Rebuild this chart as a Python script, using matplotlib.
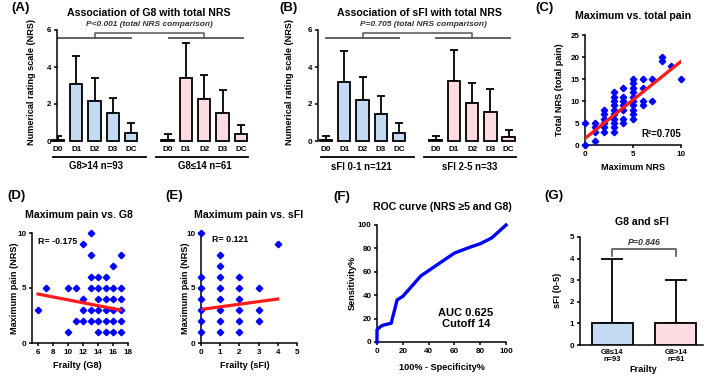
import numpy as np
import matplotlib
matplotlib.use("Agg")
import matplotlib.pyplot as plt

plt.rcParams["font.family"] = ["Liberation Sans", "DejaVu Sans"]
plt.rcParams["font.weight"] = "bold"
plt.rcParams["axes.linewidth"] = 1.1

# ---- values ----
day_labels = ["D0", "D1", "D2", "D3", "DC"]

# (A) total NRS by G8 group: bar height and top of error bar
a_high_mean = [0.05, 3.10, 2.15, 1.49, 0.41]
a_high_top = [0.27, 4.57, 3.40, 2.35, 0.99]
a_low_mean = [0.05, 3.42, 2.28, 1.54, 0.39]
a_low_top = [0.36, 5.32, 3.55, 2.78, 0.86]

# (B) total NRS by sFI group
b_low_mean = [0.07, 3.19, 2.19, 1.46, 0.41]
b_low_top = [0.27, 4.84, 3.46, 2.42, 0.99]
b_high_mean = [0.07, 3.24, 2.05, 1.56, 0.21]
b_high_top = [0.28, 4.92, 3.12, 2.81, 0.61]

# (C) maximum NRS vs total NRS
c_max = [0, 0,
         1, 1, 1, 1,
         2, 2, 2, 2, 2, 2,
         3, 3, 3, 3, 3, 3, 3, 3, 3, 3,
         4, 4, 4, 4, 4, 4, 4,
         5, 5, 5, 5, 5, 5, 5, 5, 5, 5,
         6, 6, 6, 6,
         7, 7, 8, 8, 9, 10]
c_total = [0, 5,
           1, 3, 4, 5,
           3, 4, 5, 6, 7, 8,
           3, 4, 5, 6, 7, 8, 9, 10, 11, 12,
           5, 6, 8, 9, 10, 11, 13,
           6, 7, 8, 9, 10, 11, 12, 13, 14, 15,
           9, 10, 13, 15,
           10, 15, 19, 20, 18, 15]
c_fit_x = [0, 10]
c_fit_y = [1.5, 19.0]

# (D) G8 vs maximum pain
d_g8 = [6, 7, 10, 10, 11, 11, 12, 12, 12, 12,
        13, 13, 13, 13, 13, 13,
        14, 14, 14, 14, 14, 14,
        15, 15, 15, 15, 15, 15,
        16, 16, 16, 16, 16, 16,
        17, 17, 17, 17, 17, 17]
d_pain = [3, 5, 1, 5, 2, 5, 2, 3, 4, 9,
          2, 3, 5, 6, 8, 10,
          1, 2, 3, 4, 5, 6,
          1, 2, 3, 4, 5, 6,
          1, 2, 3, 4, 5, 7,
          1, 2, 3, 4, 5, 8]
d_fit_x = [6, 17]
d_fit_y = [4.45, 3.0]

# (E) sFI vs maximum pain
e_sfi = [0, 0, 0, 0, 0, 0, 0,
         1, 1, 1, 1, 1, 1, 1, 1,
         2, 2, 2, 2, 2, 2,
         3, 3, 3, 4]
e_pain = [1, 2, 3, 4, 5, 6, 10,
          1, 2, 3, 4, 5, 6, 7, 8,
          1, 2, 3, 4, 5, 6,
          2, 3, 5, 9]
e_fit_x = [0, 4]
e_fit_y = [3.05, 4.0]

# (F) ROC curve
roc_fpr = [0, 0, 3, 5, 11, 15.6, 20, 34, 60, 72, 80, 89, 100]
roc_tpr = [0, 10.5, 13.4, 14.5, 16, 36, 39, 56.5, 76, 81, 84, 89, 100]

# (G) sFI by G8 group
g_labels = ["G8\u226414\nn=93", "G8>14\nn=61"]
g_mean = [1, 1]
g_top = [4, 3]

BLUE = "#c3daf2"
PINK = "#fcdce0"
DOT = "#0000ff"
RED = "#ff1a1a"
LW = 1.3

W, H = 709, 376
fig = plt.figure(figsize=(W / 100, H / 100), dpi=100)


def add_ax(left, top, right, bottom):
    # axes placed by pixel edges of the plotting area
    return fig.add_axes([left / W, 1 - bottom / H, (right - left) / W, (bottom - top) / H])


def ftext(x, y, s, size=6.6, **kw):
    kw.setdefault("ha", "center")
    kw.setdefault("va", "center")
    fig.text(x / W, 1 - y / H, s, fontsize=size, fontweight="bold", **kw)


def style(ax, bottom=True):
    ax.spines["top"].set_visible(False)
    ax.spines["right"].set_visible(False)
    if not bottom:
        ax.spines["bottom"].set_visible(False)
    ax.tick_params(direction="out", length=2.5, width=1.1, labelsize=5.8, pad=1.5)


def bar_panel(ax, m1, t1, m2, t2, xleft, xright):
    pos1 = np.arange(5)
    pos2 = np.arange(5) + 6
    for pos, m, t, col in ((pos1, m1, t1, BLUE), (pos2, m2, t2, PINK)):
        m = np.array(m)
        t = np.array(t)
        ax.errorbar(pos, m, yerr=[np.zeros(5), t - m], fmt="none", ecolor="black",
                    elinewidth=LW, capsize=2.8, capthick=LW, zorder=2)
        ax.bar(pos, m, width=0.68, color=col, edgecolor="black", linewidth=LW,
               zorder=3, clip_on=False)
    style(ax, bottom=False)
    ax.set_xlim(xleft, xright)
    ax.set_ylim(0, 6)
    ax.set_yticks([0, 2, 4, 6])
    ax.set_xticks(list(pos1) + list(pos2))
    ax.set_xticklabels(day_labels * 2)
    ax.tick_params(axis="x", length=0, pad=3.5)
    # group underlines
    tr = ax.get_xaxis_transform()
    for x0, x1 in ((-0.27, 4.83), (5.38, 10.4)):
        ax.plot([x0, x1], [-0.145, -0.145], transform=tr, color="black", lw=LW, clip_on=False)
    # comparison bracket
    gc = "#555555"
    ax.plot([0, 4.0], [5.55, 5.55], color=gc, lw=LW, clip_on=False)
    ax.plot([6.05, 10.1], [5.55, 5.55], color=gc, lw=LW, clip_on=False)
    ax.plot([2.05, 2.05, 8.0, 8.0], [5.55, 5.85, 5.85, 5.55], color=gc, lw=1.1, clip_on=False)


# ---- (A) ----
axA = add_ax(57, 30, 250, 141)
bar_panel(axA, a_high_mean, a_high_top, a_low_mean, a_low_top, -0.05, 10.5)
ftext(149, 13, "Association of G8 with total NRS", size=7.6)
ftext(149, 25, "P<0.001 (total NRS comparison)", size=6.0, style="italic", color="#333333")
ftext(32, 82, "Numerical rating scale (NRS)", rotation=90)
ftext(96, 166, "G8>14 n=93", size=6.9)
ftext(205, 166, "G8\u226414 n=61", size=6.9)
ftext(21, 8, "(A)", size=9.5)

# ---- (B) ----
axB = add_ax(318, 30, 515, 141)
bar_panel(axB, b_low_mean, b_low_top, b_high_mean, b_high_top, -0.44, 10.35)
ftext(419, 13, "Association of sFI with total NRS", size=7.6)
ftext(423, 25, "P=0.705 (total NRS comparison)", size=6.0, style="italic", color="#333333")
ftext(290, 82, "Numerical rating scale (NRS)", rotation=90)
ftext(361, 167, "sFI 0-1 n=121", size=6.9)
ftext(470, 167, "sFI 2-5 n=33", size=6.9)
ftext(288, 8, "(B)", size=9.5)

# ---- (C) ----
axC = add_ax(585, 35, 681, 145)
axC.plot(c_max, c_total, "D", ms=3.3, color=DOT, clip_on=False, zorder=3)
axC.plot(c_fit_x, c_fit_y, color=RED, lw=2.3, zorder=4)
style(axC)
axC.set_xlim(0, 10)
axC.set_ylim(0, 25)
axC.set_xticks([0, 5, 10])
axC.set_yticks([0, 5, 10, 15, 20, 25])
axC.text(10, 2.6, "R\u00b2=0.705", ha="right", va="center", fontsize=6.9, fontweight="bold")
ftext(633, 16, "Maximum vs. total pain", size=7.6)
ftext(633, 167, "Maximum NRS")
ftext(560, 90, "Total NRS (total pain)", rotation=90)
ftext(545, 8, "(C)", size=9.5)

# ---- (D) ----
axD = add_ax(32, 233, 128, 343)
axD.plot(d_g8, d_pain, "D", ms=3.3, color=DOT, clip_on=False, zorder=3)
axD.plot(d_fit_x, d_fit_y, color=RED, lw=2.3, zorder=4)
style(axD)
axD.set_xlim(5.2, 18)
axD.set_ylim(0, 10)
axD.set_xticks([6, 8, 10, 12, 14, 16, 18])
axD.set_yticks([0, 5, 10])
axD.text(6.0, 9.2, "R= -0.175", ha="left", va="center", fontsize=6.4, fontweight="bold")
ftext(79, 215, "Maximum pain vs. G8", size=7.6)
ftext(77, 366, "Frailty (G8)")
ftext(15, 288, "Maximum pain (NRS)", rotation=90)
ftext(16, 196, "(D)", size=9.5)

# ---- (E) ----
axE = add_ax(201, 233, 297, 343)
axE.plot(e_sfi, e_pain, "D", ms=3.3, color=DOT, clip_on=False, zorder=3)
axE.plot(e_fit_x, e_fit_y, color=RED, lw=2.3, zorder=4)
style(axE)
axE.set_xlim(0, 5)
axE.set_ylim(0, 10)
axE.set_xticks([0, 1, 2, 3, 4, 5])
axE.set_yticks([0, 5, 10])
axE.text(0.57, 9.45, "R= 0.121", ha="left", va="center", fontsize=6.4, fontweight="bold")
ftext(249, 215, "Maximum pain vs. sFI", size=7.6)
ftext(245, 366, "Frailty (sFI)")
ftext(185, 288, "Maximum pain (NRS)", rotation=90)
ftext(174, 196, "(E)", size=9.5)

# ---- (F) ----
axF = add_ax(377, 225, 506, 342)
axF.plot(roc_fpr, roc_tpr, color=DOT, lw=2.4, clip_on=False, zorder=3)
style(axF)
axF.set_xlim(0, 100)
axF.set_ylim(0, 100)
axF.set_xticks(range(0, 101, 20))
axF.set_yticks(range(0, 101, 20))
axF.text(69, 20, "AUC 0.625\nCutoff 14", ha="center", va="center", fontsize=8,
         fontweight="bold", linespacing=1.05)
ftext(442, 207, "ROC curve (NRS \u22655 and G8)", size=7.6)
ftext(442, 367, "100% - Specificity%")
ftext(352, 283, "Sensitivity%", rotation=90)
ftext(342, 197, "(F)", size=9.5)

# ---- (G) ----
axG = add_ax(580, 237, 703, 345)
gm = np.array(g_mean)
gt = np.array(g_top)
axG.errorbar([0, 1], gm, yerr=[np.zeros(2), gt - gm], fmt="none", ecolor="black",
             elinewidth=LW, capsize=8, capthick=LW, zorder=2)
axG.bar([0, 1], gm, width=0.65, color=[BLUE, PINK], edgecolor="black", linewidth=LW, zorder=3)
style(axG)
axG.set_xlim(-0.51, 1.43)
axG.set_ylim(0, 5)
axG.set_yticks([0, 1, 2, 3, 4, 5])
axG.set_xticks([0, 1])
axG.set_xticklabels(g_labels, fontsize=5.4, linespacing=1.0)
axG.tick_params(axis="x", length=0, pad=3)
axG.plot([0, 0, 1, 1], [4.12, 4.44, 4.44, 4.12], color="#444444", lw=1.1)
axG.text(0.5, 4.75, "P=0.846", ha="center", va="center", fontsize=6.3,
         fontweight="bold", style="italic", color="#333333")
ftext(642, 222, "G8 and sFI", size=7.6)
ftext(643, 369, "Frailty")
ftext(558, 290, "sFI (0-5)", rotation=90)
ftext(554, 196, "(G)", size=9.5)

fig.savefig("out.png", dpi=100)
